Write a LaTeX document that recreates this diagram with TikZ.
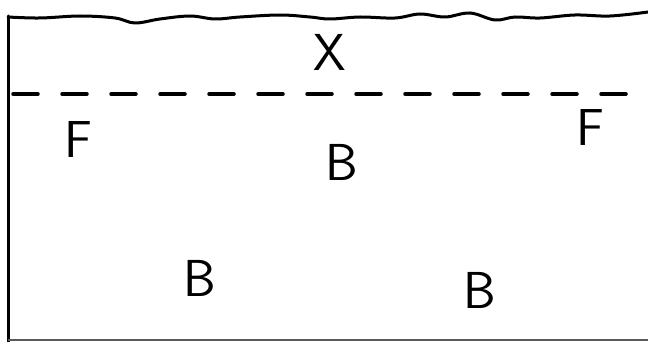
\documentclass[tikz,border=0pt]{standalone}
\usetikzlibrary{decorations.pathmorphing}
\begin{document}
\begin{tikzpicture}[x=1pt,y=-1pt,
  letter/.style={font=\sffamily\fontsize{52}{52}\selectfont, inner sep=0pt},
  ink/.style={line width=3pt, line cap=round, line join=round}]
\useasboundingbox (0,0) rectangle (648,342);
% frame
\draw[ink] (8,16) -- (8,342);
\draw[line width=2pt, black!65] (8,340) -- (648,340);
\draw[ink] plot[smooth, tension=0.6] coordinates {(8,17) (40,18) (80,16) (115,18) (135,23) (160,19) (190,16) (215,19) (240,17) (280,15) (310,17) (330,19) (360,17) (395,18) (420,14) (445,17) (470,13) (495,20) (515,17) (540,18) (575,15) (610,16) (648,12)};
% dashed line
\draw[line width=3.5pt, line cap=round, dash pattern=on 25pt off 24pt] (13,94) -- (648,94);
% letters
\node[letter] (x) at (330,52) {X};
\node[letter] (f1) at (78,140) {F};
\node[letter] (f2) at (590,128) {F};
\node[letter] (b1) at (342,162) {B};
\node[letter] (b2) at (200,278) {B};
\node[letter] (b3) at (480,290) {B};
\end{tikzpicture}
\end{document}
